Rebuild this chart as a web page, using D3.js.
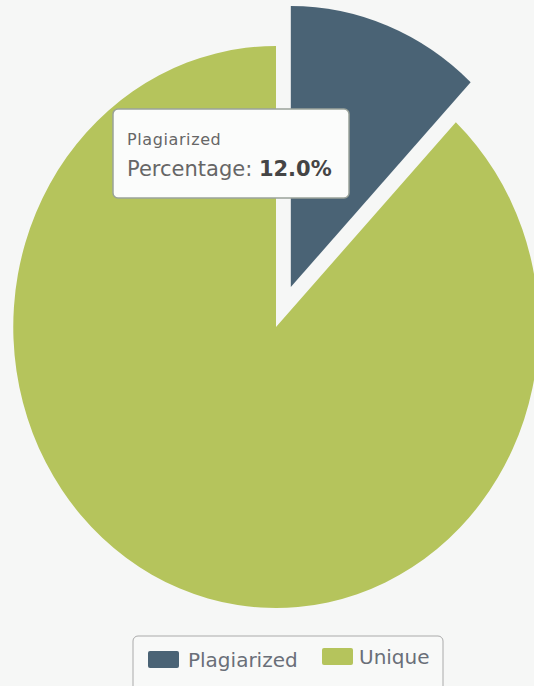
<!DOCTYPE html>
<html><head><meta charset="utf-8">
<script src="https://cdn.jsdelivr.net/npm/d3@7"></script>
<style>html,body{margin:0;padding:0;background:#f6f7f6;}svg{display:block;}</style>
</head><body>
<script>
const categories = ["Plagiarized", "Unique"];
const values = [12.0, 88.0];
const colors = ["#4a6375", "#b5c45c"];
const tooltipTitle = "Plagiarized";
const tooltipLabel = "Percentage: ";
const tooltipValue = "12.0%";

const W = 534, H = 686;
const svg = d3.select("body").append("svg").attr("width", W).attr("height", H);
svg.append("rect").attr("width", W).attr("height", H).attr("fill", "#f6f7f6");

const cx = 276, cy = 327, R = 281, sx = 0.935;
const pie = d3.pie().sort(null).value(d => d)(values);
const arc = d3.arc().innerRadius(0).outerRadius(R);
const g = svg.append("g").attr("transform", `translate(${cx},${cy}) scale(${sx},1)`);
g.selectAll("path").data(pie).join("path")
  .attr("d", arc)
  .attr("fill", (d, i) => colors[i])
  .attr("transform", (d, i) => {
    if (i !== 0) return null;
    const a = (d.startAngle + d.endAngle) / 2, off = 43;
    return `translate(${off * Math.sin(a)},${-off * Math.cos(a)})`;
  });

// tooltip
const tt = svg.append("g").attr("transform", "translate(113,109)");
tt.append("rect").attr("width", 236).attr("height", 89).attr("rx", 5)
  .attr("fill", "#fbfcfb").attr("stroke", "#9aa29a").attr("stroke-width", 1.5);
tt.append("text").attr("x", 14).attr("y", 36).attr("font-family", "DejaVu Sans, sans-serif")
  .attr("font-size", 16).attr("letter-spacing", 0.6).attr("fill", "#666").text(tooltipTitle);
const t2 = tt.append("text").attr("x", 14).attr("y", 67).attr("font-family", "DejaVu Sans, sans-serif")
  .attr("font-size", 21).attr("fill", "#666");
t2.append("tspan").text(tooltipLabel);
t2.append("tspan").attr("font-weight", "bold").attr("fill", "#454545").text(tooltipValue);

// legend
const lg = svg.append("g").attr("transform", "translate(133,636)");
lg.append("rect").attr("width", 310).attr("height", 56).attr("rx", 5)
  .attr("fill", "#f8f9f8").attr("stroke", "#aaa").attr("stroke-width", 1);
const legX = [15, 189];
const txtX = [55, 226];
categories.forEach((c, i) => {
  lg.append("rect").attr("x", legX[i]).attr("y", 15 - i * 3).attr("width", 31).attr("height", 17)
    .attr("rx", 2).attr("fill", colors[i]);
  lg.append("text").attr("x", txtX[i]).attr("y", 31 - i * 3).attr("font-family", "DejaVu Sans, sans-serif")
    .attr("font-size", 20).attr("fill", "#6a6f78").text(c);
});
</script>
</body></html>
